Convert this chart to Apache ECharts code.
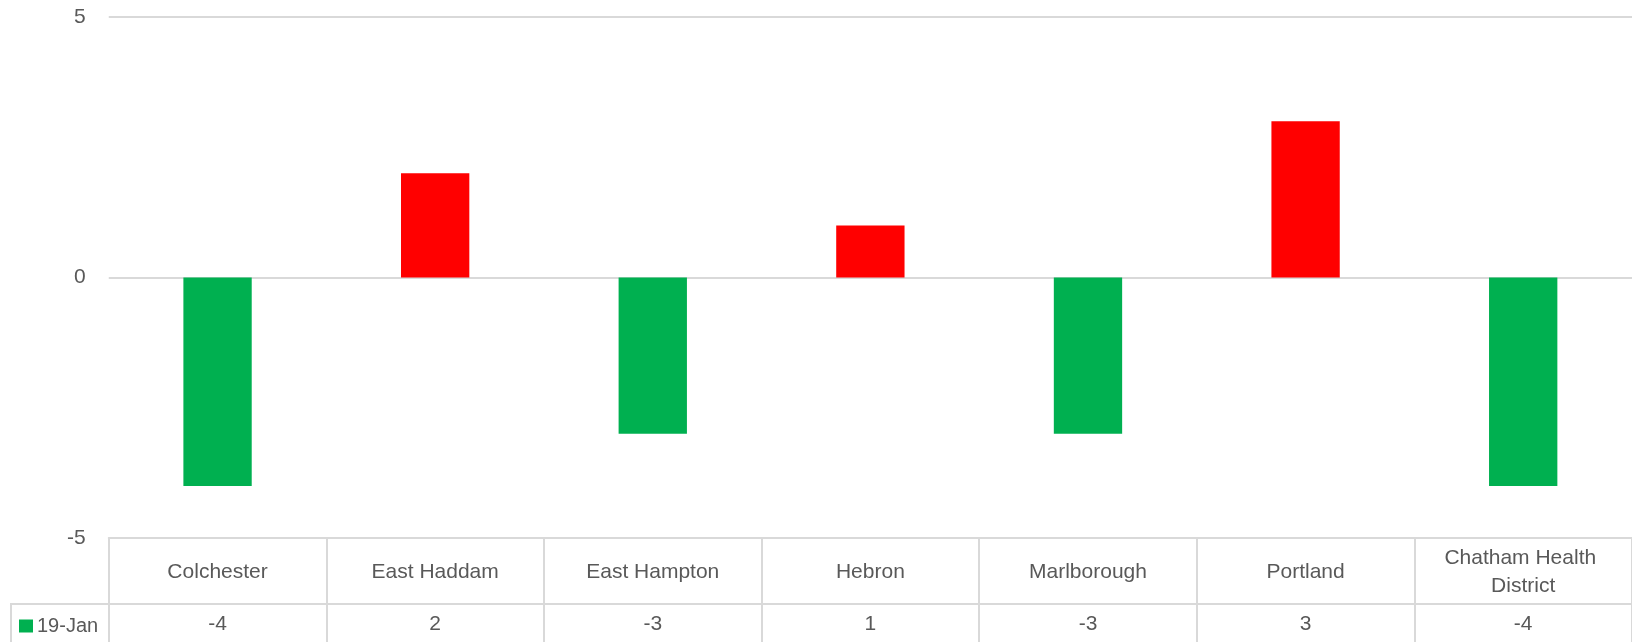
<!DOCTYPE html>
<html><head><meta charset="utf-8">
<script src="https://cdn.jsdelivr.net/npm/echarts@6/dist/echarts.min.js"></script>
<style>html,body{margin:0;padding:0;background:#fff}#c{width:1632px;height:642px}</style>
</head><body><div id="c"></div>
<script>
const categories = ['Colchester','East Haddam','East Hampton','Hebron','Marlborough','Portland','Chatham Health District'];
const values = [-4, 2, -3, 1, -3, 3, -4];
const seriesName = '19-Jan';
const yTicks = {min: -5, max: 5, interval: 5};

const GREEN = '#00b050', RED = '#ff0000', GRID = '#d9d9d9', TXT = '#595959';
const FONT = 'Liberation Sans';
const FS = 21;
const gLeft = 108.75, gWidth = 1536.5, gTop = 17, gHeight = 521;

const chart = echarts.init(document.getElementById('c'));
chart.setOption({
  animation: false,
  textStyle: {fontFamily: FONT},
  grid: {left: gLeft, width: gWidth, top: gTop, height: gHeight, containLabel: false},
  legend: {
    left: 19, top: 616, padding: 0, icon: 'rect', itemWidth: 14, itemHeight: 13, itemGap: 6,
    textStyle: {color: TXT, fontSize: FS - 1, fontFamily: FONT, padding: [0, 0, 0, -1]},
    data: [seriesName]
  },
  xAxis: [{
    type: 'category', data: categories, position: 'bottom',
    axisLine: {show: true, onZero: false, lineStyle: {color: GRID, width: 2}},
    axisTick: {show: true, length: 110, lineStyle: {color: GRID, width: 2}},
    axisLabel: {interval: 0, margin: 34, verticalAlign: 'middle', color: TXT, fontSize: FS, fontFamily: FONT,
      width: 200, overflow: 'break', lineHeight: 28, align: 'center'}
  }, {
    type: 'category', data: values.map(String), position: 'bottom', offset: 0,
    axisLine: {show: false, onZero: false}, axisTick: {show: false},
    axisLabel: {interval: 0, margin: 86, verticalAlign: 'middle', color: TXT, fontSize: FS, fontFamily: FONT}
  }],
  yAxis: {
    type: 'value', min: yTicks.min, max: yTicks.max, interval: yTicks.interval,
    axisLine: {show: false}, axisTick: {show: false},
    splitLine: {lineStyle: {color: GRID, width: 2}},
    axisLabel: {margin: 23, color: TXT, fontSize: FS, fontFamily: FONT, padding: [3, 0, 0, 0]}
  },
  graphic: [
    {type: 'line', silent: true, shape: {x1: 10, y1: 604, x2: 1640, y2: 604}, style: {stroke: GRID, lineWidth: 2}},
    {type: 'line', silent: true, shape: {x1: 11, y1: 604, x2: 11, y2: 650}, style: {stroke: GRID, lineWidth: 2}}
  ],
  series: [{
    name: seriesName, type: 'bar', barWidth: '31.4%',
    itemStyle: {color: GREEN},
    data: values.map(v => ({value: v, itemStyle: {color: v > 0 ? RED : GREEN}}))
  }]
});
</script></body></html>
